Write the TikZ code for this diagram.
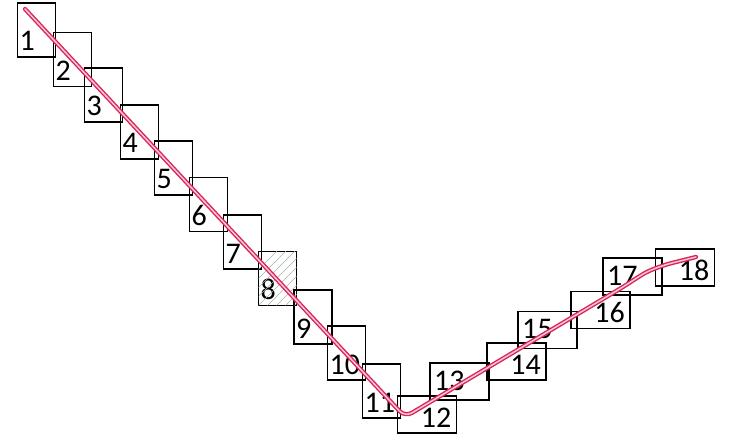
\documentclass[tikz,border=0pt]{standalone}
\usepackage{fontspec}
\setmainfont{Carlito}
\usetikzlibrary{positioning}
\definecolor{crimson}{RGB}{218,36,88}
\definecolor{blush}{RGB}{248,200,215}
\definecolor{hatch}{RGB}{165,185,170}

\tikzset{
  cell/.style={draw=black,line width=1.2pt,inner sep=0pt,outer sep=0pt},
  tallcell/.style={cell,minimum width=38pt,minimum height=54pt},
  widecell/.style={cell,minimum width=59pt,minimum height=37pt},
  num/.style={inner sep=0pt,font=\fontsize{30}{30}\selectfont},
  route/.style={draw=crimson,line width=1.4pt,double=blush,double distance=1.5pt,line cap=round}
}

\begin{document}
\begin{tikzpicture}[x=1pt,y=-1pt]
    \fill[white] (0,0) rectangle (732,436);
    \useasboundingbox (0,0) rectangle (732,436);
    % descending cells
    \foreach \n/\x/\y in {1/36.5/30,2/72.5/59.5,3/103.5/95,4/139.5/132,5/173.5/168,
      6/208.5/204.5,7/242.5/242,8/277.5/278.5,9/313/317,10/346.5/353,11/381.5/391}
    {
      \node[tallcell] (b\n) at (\x,\y) {};
      \node[num,anchor=base west] (l\n) at ([shift={(2,-6)}]b\n.south west) {\n};
    }
    % hatched cell
    \begin{scope}
      \clip (b8.south west) rectangle (b8.north east);
      \foreach \d in {-36,-27,...,36}
        \draw[hatch,line width=0.5pt] ([xshift=\d pt]b8.south west) -- ++(70,-70);
    \end{scope}
    % ascending cells
    \foreach \n/\x/\y/\s in {12/427/414.5/1,13/459.5/381.5/0,14/516.5/361.5/1,15/547.5/330/0,
      16/600.5/310/1,17/632.5/276.5/0,18/685/267.5/1}
    {
      \node[widecell] (b\n) at (\x,\y) {};
      \ifnum\s=1 \node[num,anchor=base east] (l\n) at ([shift={(-5,-6)}]b\n.south east) {\n};\else \node[num,anchor=base west] (l\n) at ([shift={(4,-10)}]b\n.south west) {\n};\fi
    }
    % route
    \coordinate (start) at (25,9);
    \coordinate (bottom) at (405,417);
    \coordinate (bend) at (623,287);
    \coordinate (stop) at (696,257);
    \draw[route,rounded corners=8pt] (start) -- (bottom) -- (bend)
      .. controls (646,272) .. (664,265) -- (stop);
  \end{tikzpicture}
\end{document}
